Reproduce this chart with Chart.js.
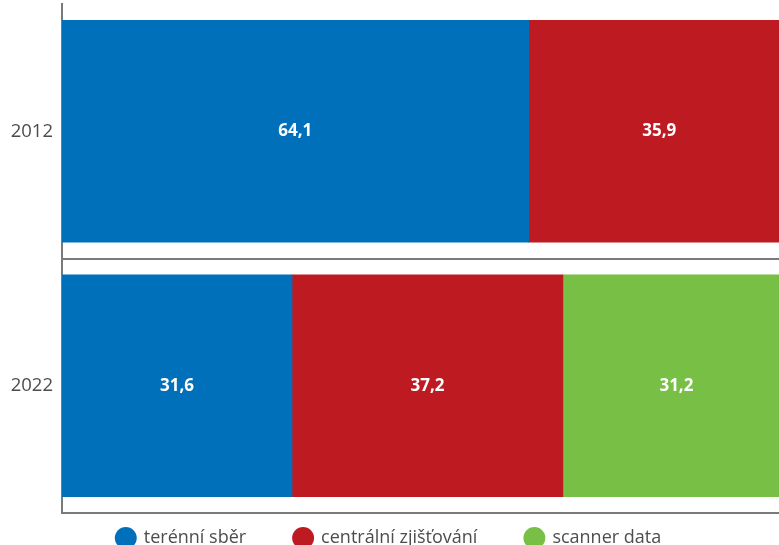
<!DOCTYPE html>
<html>
<head>
<meta charset="utf-8">
<script src="https://cdn.jsdelivr.net/npm/chart.js@4"></script>
<style>
  html, body { margin: 0; padding: 0; background: #fff; overflow: hidden; }
  #wrap { position: relative; width: 790px; height: 589px; }
</style>
</head>
<body>
<div id="wrap"><canvas id="chart"></canvas></div>
<script>
const years = ["2012", "2022"];
const fieldCollection = [64.1, 31.6];
const centralSurvey = [35.9, 37.2];
const scannerData = [0, 31.2];
const seriesNames = ["terénní sběr", "centrální zjišťování", "scanner data"];

const axisGray = "#7a7a7a";
const textGray = "#4d4d4d";

// white value labels in the middle of each segment
const valueLabels = {
  id: "valueLabels",
  afterDatasetsDraw(chart) {
    const ctx = chart.ctx;
    ctx.save();
    ctx.fillStyle = "#fff";
    ctx.font = "bold 17px 'Open Sans'";
    ctx.textAlign = "center";
    ctx.textBaseline = "middle";
    chart.data.datasets.forEach((ds, i) => {
      chart.getDatasetMeta(i).data.forEach((bar, j) => {
        const v = ds.data[j];
        if (!v) return;
        const p = bar.getCenterPoint();
        ctx.fillText(v.toFixed(1).replace(".", ","), p.x, p.y);
      });
    });
    ctx.restore();
  }
};

// pull the legend up closer to the plot and a bit to the left
const legendShift = {
  id: "legendShift",
  afterLayout(chart) {
    const lg = chart.legend;
    lg.top -= 32;
    lg.bottom -= 32;
    lg.left -= 6;
    lg.right -= 6;
  }
};

new Chart(document.getElementById("chart"), {
  type: "bar",
  data: {
    labels: years,
    datasets: [
      { label: seriesNames[0], data: fieldCollection, backgroundColor: "#0070ba" },
      { label: seriesNames[1], data: centralSurvey, backgroundColor: "#bd1b21" },
      { label: seriesNames[2], data: scannerData, backgroundColor: "#77bf45" }
    ]
  },
  options: {
    indexAxis: "y",
    responsive: true,
    maintainAspectRatio: false,
    animation: false,
    layout: { padding: { top: 4, left: 0, right: 0, bottom: 0 } },
    datasets: { bar: { barThickness: 222, borderWidth: 0 } },
    scales: {
      x: {
        stacked: true,
        min: 0,
        max: 100,
        ticks: { display: false },
        grid: { display: false, drawTicks: false },
        border: { display: true, color: axisGray, width: 2 }
      },
      y: {
        stacked: true,
        afterFit: s => {
          s.width = 62;
          s.paddingTop = 0;
          s.paddingBottom = 0;
        },
        ticks: { padding: 9, color: textGray, font: { family: "'Open Sans'", size: 18.5 } },
        grid: {
          drawTicks: false,
          lineWidth: 2,
          color: c => (c.index === 0 ? "rgba(0,0,0,0)" : axisGray)
        },
        border: { display: true, color: axisGray, width: 2 }
      }
    },
    plugins: {
      tooltip: { enabled: false },
      legend: {
        position: "bottom",
        labels: {
          usePointStyle: true,
          pointStyle: "circle",
          boxHeight: 15.5,
          padding: 48,
          color: textGray,
          font: { family: "'Open Sans'", size: 18 }
        }
      }
    }
  },
  plugins: [valueLabels, legendShift]
});
</script>
</body>
</html>
